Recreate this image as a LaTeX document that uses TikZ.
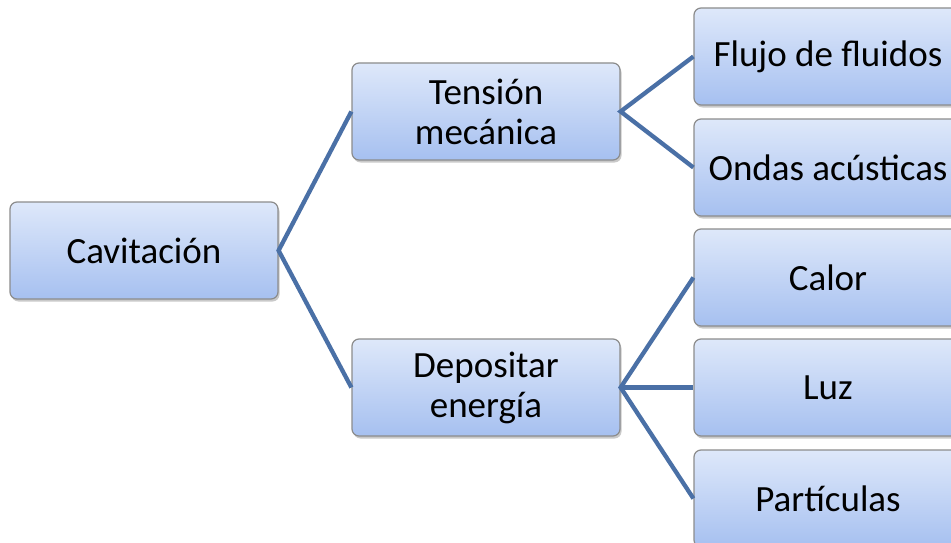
\documentclass[tikz,border=0pt]{standalone}
\usepackage{fontspec}
\setmainfont{Carlito}
\usetikzlibrary{shadows}
\definecolor{linkblue}{RGB}{74,112,166}
\definecolor{boxtop}{RGB}{222,232,250}
\definecolor{boxbot}{RGB}{166,192,240}
\definecolor{boxline}{RGB}{140,140,140}
\begin{document}
\begin{tikzpicture}[x=1pt,y=-1pt,
  cbox/.style={draw=boxline, line width=1.2pt, rounded corners=7pt,
    top color=boxtop, bottom color=boxbot,
    minimum width=268pt, minimum height=97pt, inner sep=0pt,
    align=center, font=\fontsize{37}{40}\selectfont,
    drop shadow={shadow xshift=1.5pt, shadow yshift=-2.5pt, opacity=0.35, fill=black!60}},
  link/.style={draw=linkblue, line width=4.3pt}]
\useasboundingbox (0,0) rectangle (951,543);
\fill[white] (0,0) rectangle (951,543);
\node[cbox] (cav) at (144,250.5) {Cavitación};
\node[cbox] (ten) at (486,111.5) {Tensión\\mecánica};
\node[cbox] (dep) at (486,387.5) {Depositar\\energía};
\node[cbox] (flu) at (828,56.5) {Flujo de fluidos};
\node[cbox] (ond) at (828,167.5) {Ondas acústicas};
\node[cbox] (cal) at (828,277.5) {Calor};
\node[cbox] (luz) at (828,387.5) {Luz};
\node[cbox] (par) at (828,498.5) {Partículas};
\draw[link] (ten.west) -- (cav.east) -- (dep.west);
\draw[link] (flu.west) -- (ten.east) -- (ond.west);
\draw[link] (cal.west) -- (dep.east) -- (par.west);
\draw[link] (dep.east) -- (luz.west);
\end{tikzpicture}
\end{document}
